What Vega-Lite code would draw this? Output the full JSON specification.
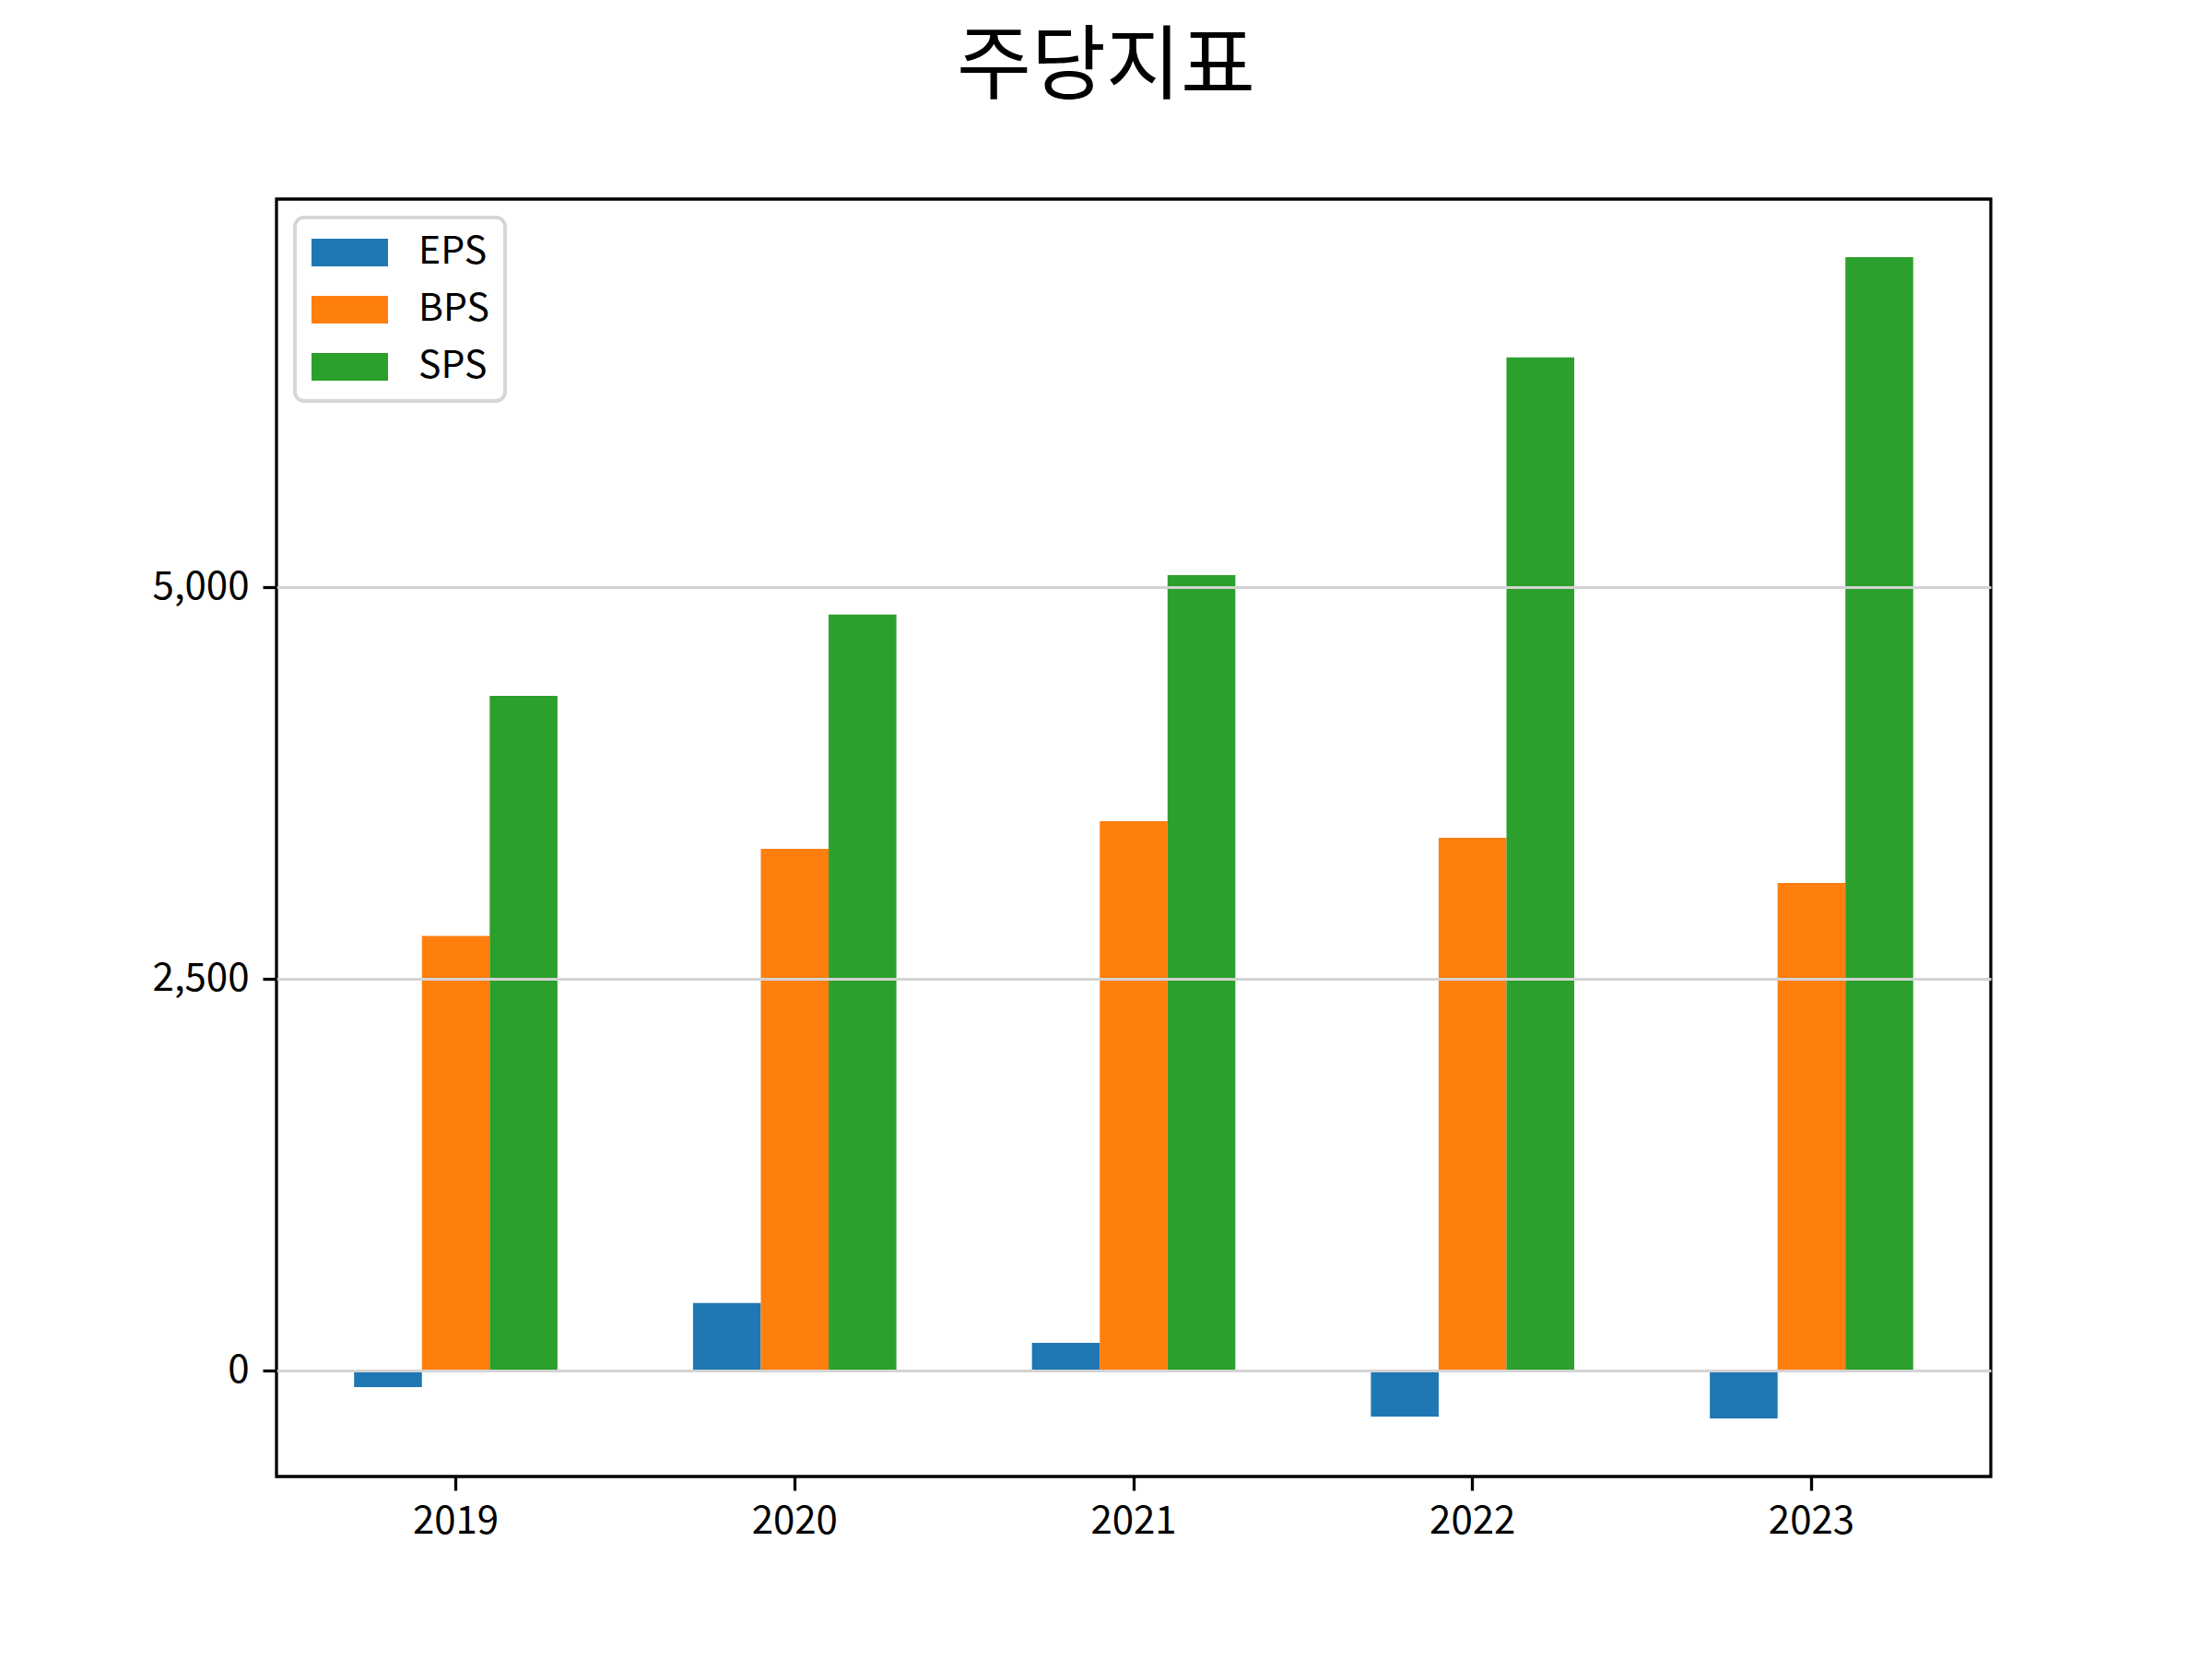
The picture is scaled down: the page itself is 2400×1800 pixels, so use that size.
{
  "$schema": "https://vega.github.io/schema/vega-lite/v6.json",
  "width": 1860,
  "height": 1386,
  "autosize": {"type": "none"},
  "padding": {"left": 300, "top": 216, "right": 240, "bottom": 198},
  "background": "white",
  "title": {
    "text": "주당지표",
    "fontSize": 88,
    "fontWeight": "normal",
    "font": "Noto Sans CJK KR",
    "color": "black",
    "anchor": "middle",
    "baseline": "alphabetic",
    "offset": 28,
    "dx": -30
  },
  "data": {
    "values": [
      {"year": "2019", "metric": "EPS", "value": -108},
      {"year": "2019", "metric": "BPS", "value": 2771},
      {"year": "2019", "metric": "SPS", "value": 4304},
      {"year": "2020", "metric": "EPS", "value": 429},
      {"year": "2020", "metric": "BPS", "value": 3327},
      {"year": "2020", "metric": "SPS", "value": 4823},
      {"year": "2021", "metric": "EPS", "value": 175},
      {"year": "2021", "metric": "BPS", "value": 3504},
      {"year": "2021", "metric": "SPS", "value": 5075},
      {"year": "2022", "metric": "EPS", "value": -296},
      {"year": "2022", "metric": "BPS", "value": 3398},
      {"year": "2022", "metric": "SPS", "value": 6465},
      {"year": "2023", "metric": "EPS", "value": -308},
      {"year": "2023", "metric": "BPS", "value": 3110},
      {"year": "2023", "metric": "SPS", "value": 7104}
    ]
  },
  "mark": {"type": "bar", "opacity": 1},
  "encoding": {
    "x": {
      "field": "year",
      "type": "ordinal",
      "title": null,
      "scale": {"paddingInner": 0.4, "paddingOuter": 0.229},
      "axis": {
        "labelAngle": 0,
        "labelFontSize": 42,
        "labelPadding": 13,
        "tickSize": 15,
        "tickWidth": 3.3,
        "tickColor": "black",
        "domain": false,
        "grid": false
      }
    },
    "xOffset": {
      "field": "metric",
      "type": "nominal",
      "sort": ["EPS", "BPS", "SPS"],
      "scale": {"paddingInner": 0, "paddingOuter": 0}
    },
    "y": {
      "field": "value",
      "type": "quantitative",
      "title": null,
      "scale": {"domain": [-678.6, 7474.6], "nice": false, "zero": false},
      "axis": {
        "values": [0, 2500, 5000],
        "format": ",.0f",
        "labelFontSize": 42,
        "labelPadding": 15,
        "tickSize": 15,
        "tickWidth": 3.3,
        "tickColor": "black",
        "domain": false,
        "grid": true,
        "gridColor": "#d3d3d3",
        "gridWidth": 2.8,
        "zindex": 1
      }
    },
    "color": {
      "field": "metric",
      "type": "nominal",
      "scale": {
        "domain": ["EPS", "BPS", "SPS"],
        "range": ["#1f77b4", "#ff7f0e", "#2ca02c"]
      },
      "legend": {
        "title": null,
        "orient": "none",
        "legendX": 20,
        "legendY": 20,
        "padding": 17,
        "strokeColor": "#d6d6d6",
        "cornerRadius": 10,
        "fillColor": "white",
        "symbolType": "M-0.953,-0.714H3.0V0.714H-0.953Z",
        "symbolSize": 1764,
        "symbolStrokeWidth": 0,
        "symbolOpacity": 1,
        "labelFontSize": 41,
        "labelColor": "black",
        "labelOffset": 75,
        "rowPadding": 21,
        "encode": {
          "legend": {"update": {"strokeWidth": {"value": 4}}}
        }
      }
    }
  },
  "config": {
    "font": "Noto Sans CJK KR",
    "view": {"stroke": "black", "strokeWidth": 3.3},
    "axis": {"labelColor": "black", "labelFont": "Noto Sans CJK KR"},
    "legend": {"labelFont": "Noto Sans CJK KR"}
  }
}
